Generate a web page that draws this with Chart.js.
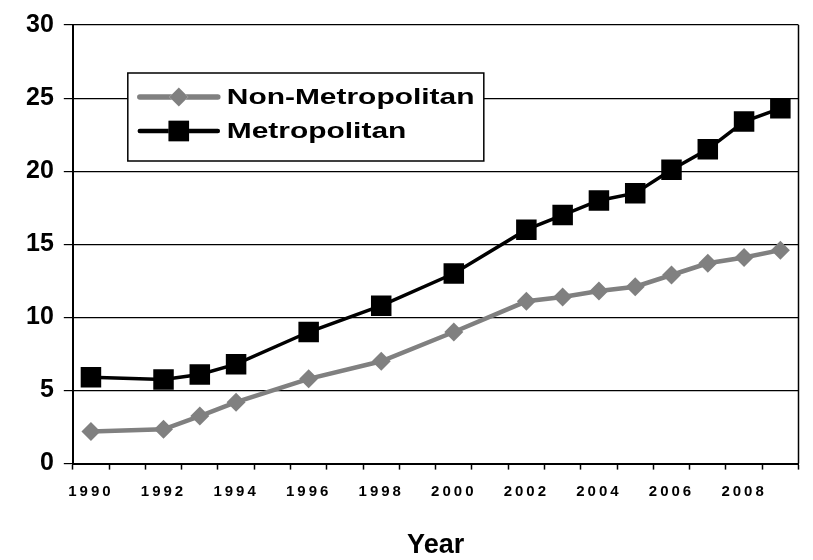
<!DOCTYPE html>
<html>
<head>
<meta charset="utf-8">
<script src="https://cdn.jsdelivr.net/npm/chart.js@4"></script>
<style>
  html, body { margin: 0; padding: 0; background: #fff; }
  #grafico { display: block; }
</style>
</head>
<body>
<canvas id="grafico" width="813" height="560"></canvas>
<script>
// categorias do eixo X (um ano por categoria, rótulo só nos anos pares)
const anosEixo = ['1990', '1991', '1992', '1993', '1994', '1995', '1996', '1997', '1998', '1999',
                  '2000', '2001', '2002', '2003', '2004', '2005', '2006', '2007', '2008', '2009'];

// anos com observação
const anosDados = ['1990', '1992', '1993', '1994', '1996', '1998', '2000', '2002',
                   '2003', '2004', '2005', '2006', '2007', '2008', '2009'];

const naoMetropolitana = [2.2, 2.35, 3.25, 4.2, 5.8, 7.0, 9.0, 11.1, 11.4, 11.8, 12.1, 12.9, 13.7, 14.1, 14.6];
const metropolitana    = [5.9, 5.75, 6.1, 6.8, 9.0, 10.8, 13.0, 16.0, 17.0, 18.0, 18.5, 20.1, 21.5, 23.4, 24.3];

const ticksY = [0, 5, 10, 15, 20, 25, 30];

const FONTE = "'Liberation Sans', Arial, sans-serif";

const pontos = (valores) => anosDados.map((ano, i) => ({ x: ano, y: valores[i] }));

// legenda desenhada dentro da área do gráfico, com caixa branca
const legendaCaixa = {
    id: 'legendaCaixa',
    afterDatasetsDraw(chart) {
        const { ctx, chartArea } = chart;
        const x0 = chartArea.left + 55;
        const y0 = chartArea.top + 48;
        const w = 356, h = 88;

        ctx.save();
        ctx.fillStyle = '#fff';
        ctx.fillRect(x0, y0, w, h);
        ctx.strokeStyle = '#000';
        ctx.lineWidth = 1.5;
        ctx.strokeRect(x0, y0, w, h);

        chart.data.datasets.forEach((ds, i) => {
            const yy = y0 + 24 + i * 34;
            ctx.strokeStyle = ds.borderColor;
            ctx.lineWidth = ds.borderWidth + 1;
            ctx.lineCap = 'round';
            ctx.beginPath();
            ctx.moveTo(x0 + 12, yy);
            ctx.lineTo(x0 + 90, yy);
            ctx.stroke();
            Chart.helpers.drawPoint(ctx, {
                pointStyle: ds.pointStyle,
                radius: ds.pointRadius,
                borderWidth: 0,
                rotation: 0
            }, x0 + 51, yy);
            ctx.fillStyle = ds.pointBackgroundColor;
            ctx.fill();

            ctx.save();
            ctx.translate(x0 + 99, yy + 1);
            ctx.scale(1.36, 1);
            ctx.fillStyle = '#000';
            ctx.font = 'bold 22px ' + FONTE;
            ctx.textBaseline = 'middle';
            ctx.textAlign = 'left';
            ctx.fillText(ds.label, 0, 0);
            ctx.restore();
        });
        ctx.restore();

        // espaçamento das letras dos anos (rótulos do eixo X são desenhados depois)
        ctx.letterSpacing = '3px';
    },
    afterDraw(chart) {
        const { ctx, chartArea } = chart;
        ctx.letterSpacing = '0px';
        // borda direita da área do gráfico
        ctx.save();
        ctx.strokeStyle = '#000';
        ctx.lineWidth = 1.5;
        ctx.beginPath();
        ctx.moveTo(chartArea.right, chartArea.top);
        ctx.lineTo(chartArea.right, chartArea.bottom);
        ctx.stroke();
        ctx.restore();
    }
};

const grafico = new Chart(document.getElementById('grafico').getContext('2d'), {
    type: 'line',
    data: {
        labels: anosEixo,
        datasets: [
            {
                label: 'Non-Metropolitan',
                data: pontos(naoMetropolitana),
                borderColor: '#808080',
                backgroundColor: '#808080',
                pointBackgroundColor: '#808080',
                pointBorderColor: '#808080',
                borderWidth: 4.5,
                pointStyle: 'rectRot',
                pointRadius: 9.5,
                pointBorderWidth: 0,
                tension: 0
            },
            {
                label: 'Metropolitan',
                data: pontos(metropolitana),
                borderColor: '#000',
                backgroundColor: '#000',
                pointBackgroundColor: '#000',
                pointBorderColor: '#000',
                borderWidth: 3.5,
                pointStyle: 'rect',
                pointRadius: 14.5,
                pointBorderWidth: 0,
                tension: 0
            }
        ]
    },
    options: {
        responsive: false,
        animation: false,
        spanGaps: true,
        layout: {
            padding: { left: 16, right: 5, top: 6, bottom: -2 }
        },
        plugins: {
            legend: { display: false },
            tooltip: { enabled: false }
        },
        scales: {
            x: {
                type: 'category',
                offset: true,
                grid: {
                    offset: true,
                    drawOnChartArea: false,
                    drawTicks: true,
                    tickLength: 6,
                    tickWidth: 1.5,
                    tickColor: '#000'
                },
                border: { display: true, color: '#000', width: 2 },
                ticks: {
                    z: 1,
                    autoSkip: false,
                    maxRotation: 0,
                    padding: 13,
                    color: '#000',
                    font: { family: FONTE, size: 15, weight: 'bold' },
                    callback: (v, i) => (Number(anosEixo[i]) % 2 === 0 ? anosEixo[i] : '')
                },
                title: {
                    display: true,
                    text: 'Year',
                    color: '#000',
                    font: { family: FONTE, size: 27, weight: 'bold' },
                    padding: { top: 16, bottom: 0 }
                }
            },
            y: {
                min: 0,
                max: 30,
                afterBuildTicks: (scale) => {
                    scale.ticks = ticksY.map(v => ({ value: v }));
                },
                grid: {
                    color: '#000',
                    lineWidth: 1.2,
                    drawTicks: true,
                    tickLength: 9,
                    tickColor: '#000'
                },
                border: { display: true, color: '#000', width: 2 },
                ticks: {
                    padding: 10,
                    color: '#000',
                    font: { family: FONTE, size: 25, weight: 'bold' }
                }
            }
        }
    },
    plugins: [legendaCaixa]
});
</script>
</body>
</html>
